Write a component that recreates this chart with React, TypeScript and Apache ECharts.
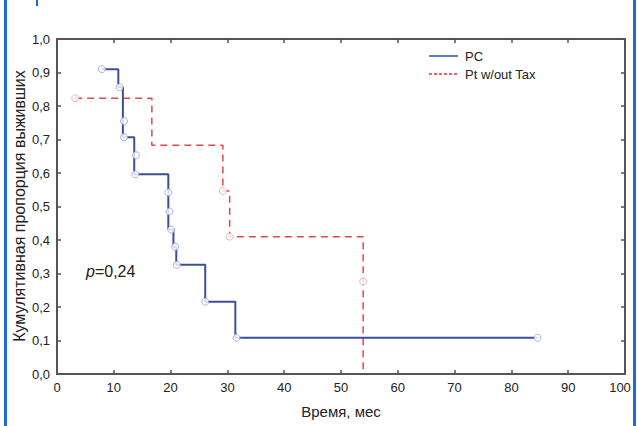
import React, { useEffect, useRef } from "react";
import * as echarts from "echarts";

// Kaplan–Meier curves: vertices of the step paths
const pcPathX = [7.9, 10.8, 10.8, 11.6, 11.6, 13.6, 13.6, 19.6, 19.6, 20.5, 20.5, 21.0, 21.0, 26.1, 26.1, 31.4, 31.4, 84.6];
const pcPathY = [0.91, 0.91, 0.856, 0.856, 0.707, 0.707, 0.596, 0.596, 0.431, 0.431, 0.38, 0.38, 0.326, 0.326, 0.216, 0.216, 0.108, 0.108];
const pcMarkX = [7.9, 11.0, 11.8, 11.8, 13.9, 13.8, 19.6, 19.8, 20.1, 20.8, 21.1, 26.1, 31.6, 84.6];
const pcMarkY = [0.91, 0.856, 0.755, 0.707, 0.653, 0.596, 0.542, 0.485, 0.431, 0.38, 0.326, 0.216, 0.108, 0.108];

const ptPathX = [3.2, 16.7, 16.7, 29.2, 29.2, 30.4, 30.4, 53.9, 53.9];
const ptPathY = [0.823, 0.823, 0.683, 0.683, 0.546, 0.546, 0.41, 0.41, 0.0];
const ptMarkX = [3.2, 29.2, 30.4, 53.9];
const ptMarkY = [0.823, 0.546, 0.41, 0.276];

const seriesNames = ["PC", "Pt w/out Tax"];
const xTitle = "Время, мес";
const yTitle = "Кумулятивная пропорция выживших";
const pText = "0,24";

const zip = (a: number[], b: number[]) => a.map((v, i) => [v, b[i]]);

const BLUE = "#3b4f9a";
const RED = "#e04848";
const AX = "#555555";
const FONT = "Liberation Sans, Arial, sans-serif";

export default function App() {
  const ref = useRef<HTMLDivElement>(null);
  useEffect(() => {
    if (!ref.current) return;
    const chart = echarts.init(ref.current, undefined, { renderer: "svg" });
    const axisCommon = {
      type: "value" as const,
      axisLine: { show: true, onZero: false, lineStyle: { color: AX, width: 2 } },
      axisTick: { show: true, inside: true, length: 4, lineStyle: { color: AX, width: 1.5 } },
      splitLine: { show: false },
    };
    chart.setOption({
      animation: false,
      backgroundColor: "#ffffff",
      textStyle: { fontFamily: FONT },
      grid: { left: 57, right: 12, top: 39, bottom: 52, containLabel: false, outerBoundsMode: "none" },
      xAxis: [
        {
          ...axisCommon,
          min: 0,
          max: 100,
          interval: 10,
          position: "bottom",
          axisLabel: {
            color: "#222",
            fontSize: 13,
            margin: 7,
            fontFamily: FONT,
            formatter: (v: number) => (v === 100 ? "{r|100}" : String(v)),
            rich: { r: { fontSize: 13, color: "#222", fontFamily: FONT, padding: [0, 10, 0, 0] } },
          },
          name: xTitle,
          nameLocation: "middle",
          nameGap: 30,
          nameTextStyle: { color: "#222", fontSize: 15, fontFamily: FONT },
        },
        {
          ...axisCommon,
          min: 0,
          max: 100,
          interval: 10,
          position: "top",
          axisLabel: { show: false },
        },
      ],
      yAxis: [
        {
          ...axisCommon,
          min: 0,
          max: 1,
          interval: 0.1,
          position: "left",
          axisLabel: {
            color: "#222",
            fontSize: 13,
            margin: 7,
            fontFamily: FONT,
            formatter: (v: number) => v.toFixed(1).replace(".", ","),
          },
        },
        {
          ...axisCommon,
          min: 0,
          max: 1,
          interval: 0.1,
          position: "right",
          axisLabel: { show: false },
        },
      ],
      series: [
        {
          name: seriesNames[0],
          type: "line",
          data: zip(pcPathX, pcPathY),
          showSymbol: false,
          lineStyle: { color: BLUE, width: 2 },
          z: 3,
        },
        {
          name: seriesNames[1],
          type: "line",
          data: zip(ptPathX, ptPathY),
          showSymbol: false,
          lineStyle: { color: RED, width: 1.5, type: [7, 5] },
          z: 2,
        },
        {
          type: "scatter",
          data: zip(pcMarkX, pcMarkY),
          symbol: "circle",
          symbolSize: 7,
          itemStyle: { color: "#ffffff", borderColor: "#9aa0d0", borderWidth: 1 },
          z: 4,
        },
        {
          type: "scatter",
          data: zip(ptMarkX, ptMarkY),
          symbol: "circle",
          symbolSize: 7,
          itemStyle: { color: "#ffffff", borderColor: "#eaa0a0", borderWidth: 1 },
          z: 4,
        },
      ],
      graphic: [
        { type: "rect", left: 4, top: 0, shape: { width: 3, height: 426 }, style: { fill: "#1a6cc4" } },
        { type: "rect", left: 633, top: 0, shape: { width: 3, height: 426 }, style: { fill: "#1a6cc4" } },
        { type: "rect", left: 36, top: 0, shape: { width: 2, height: 6 }, style: { fill: "#1a6cc4" } },
        {
          type: "text",
          x: 19,
          y: 206,
          rotation: Math.PI / 2,
          style: {
            text: yTitle,
            fill: "#222",
            fontSize: 16,
            fontFamily: FONT,
            align: "center",
            verticalAlign: "middle",
          },
        },
        { type: "line", shape: { x1: 429, y1: 56, x2: 458, y2: 56 }, style: { stroke: "#2255aa", lineWidth: 1.5 } },
        { type: "line", shape: { x1: 429, y1: 74, x2: 458, y2: 74 }, style: { stroke: "#ee2b2b", lineWidth: 1.5, lineDash: [3, 2] } },
        { type: "text", x: 465, y: 56, style: { text: seriesNames[0], fill: "#222", fontSize: 13, fontFamily: FONT, verticalAlign: "middle" } },
        { type: "text", x: 465, y: 74, style: { text: seriesNames[1], fill: "#222", fontSize: 13, fontFamily: FONT, verticalAlign: "middle" } },
        {
          type: "text",
          x: 86,
          y: 271,
          style: {
            text: "{i|p}{n|=" + pText + "}",
            verticalAlign: "middle",
            rich: {
              i: { fontStyle: "italic", fontSize: 16, fill: "#222", fontFamily: FONT },
              n: { fontSize: 16, fill: "#222", fontFamily: FONT },
            },
          },
        },
      ],
    });
    return () => chart.dispose();
  }, []);
  return (
    <div
      ref={ref}
      style={{ position: "fixed", left: 0, top: 0, width: 637, height: 426, background: "#fff" }}
    />
  );
}
